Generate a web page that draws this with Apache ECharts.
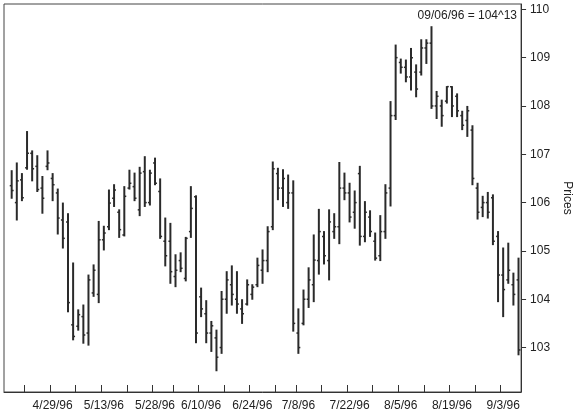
<!DOCTYPE html>
<html>
<head>
<meta charset="utf-8">
<script src="https://cdn.jsdelivr.net/npm/echarts@6/dist/echarts.min.js"></script>
<style>html,body{margin:0;padding:0;background:#fff;}#c{width:581px;height:418px;}</style>
</head>
<body>
<div id="c"></div>
<script>
// Trading dates (index 0 = 4/16/96 has no visible bar)
var dates = [
'4/16/96','4/17/96','4/18/96','4/19/96',
'4/22/96','4/23/96','4/24/96','4/25/96','4/26/96',
'4/29/96','4/30/96','5/1/96','5/2/96','5/3/96',
'5/6/96','5/7/96','5/8/96','5/9/96','5/10/96',
'5/13/96','5/14/96','5/15/96','5/16/96','5/17/96',
'5/20/96','5/21/96','5/22/96','5/23/96','5/24/96',
'5/28/96','5/29/96','5/30/96','5/31/96',
'6/3/96','6/4/96','6/5/96','6/6/96','6/7/96',
'6/10/96','6/11/96','6/12/96','6/13/96','6/14/96',
'6/17/96','6/18/96','6/19/96','6/20/96','6/21/96',
'6/24/96','6/25/96','6/26/96','6/27/96','6/28/96',
'7/1/96','7/2/96','7/3/96','7/5/96',
'7/8/96','7/9/96','7/10/96','7/11/96','7/12/96',
'7/15/96','7/16/96','7/17/96','7/18/96','7/19/96',
'7/22/96','7/23/96','7/24/96','7/25/96','7/26/96',
'7/29/96','7/30/96','7/31/96','8/1/96','8/2/96',
'8/5/96','8/6/96','8/7/96','8/8/96','8/9/96',
'8/12/96','8/13/96','8/14/96','8/15/96','8/16/96',
'8/19/96','8/20/96','8/21/96','8/22/96','8/23/96',
'8/26/96','8/27/96','8/28/96','8/29/96','8/30/96',
'9/3/96','9/4/96','9/5/96','9/6/96'
];
var weekStarts = ['4/22/96','4/29/96','5/6/96','5/13/96','5/20/96','5/28/96','6/3/96','6/10/96','6/17/96','6/24/96','7/1/96','7/8/96','7/15/96','7/22/96','7/29/96','8/5/96','8/12/96','8/19/96','8/26/96','9/3/96'];
var tickLabels = ['4/29/96','5/13/96','5/28/96','6/10/96','6/24/96','7/8/96','7/22/96','8/5/96','8/19/96','9/3/96'];
var priceTicks = [103,104,105,106,107,108,109,110];

var opens = [null,
106.35,106.00,106.47,106.72,107.02,106.75,106.30,106.75,106.50,106.20,
105.64,105.60,103.47,103.44,103.64,103.30,104.13,104.10,105.23,105.50,
106.09,105.80,105.33,106.30,106.33,105.85,106.64,106.00,106.82,106.23,
105.20,105.20,104.47,104.80,104.43,105.40,106.12,104.05,103.70,103.30,
103.20,103.00,104.00,104.30,104.00,103.80,103.90,104.10,104.30,104.60,
104.80,105.50,106.60,106.30,106.00,106.20,103.30,103.50,104.00,104.30,
104.80,105.30,104.80,105.40,105.50,106.30,106.20,105.80,106.60,105.30,
105.70,105.20,104.90,105.40,106.30,107.80,108.90,108.80,108.60,108.70,
108.70,109.20,109.30,108.00,108.00,108.10,108.40,108.20,107.80,107.70,
107.50,106.30,105.90,106.00,106.10,105.30,104.50,104.40,104.30,104.40];
var highs = [null,
106.66,106.82,106.60,107.47,107.07,106.97,106.54,107.07,106.60,106.28,
105.99,105.77,104.75,103.78,103.88,104.50,104.71,105.61,105.51,106.26,
106.37,105.85,106.33,106.67,106.61,106.73,106.95,106.67,106.92,106.49,
105.68,105.57,104.92,104.96,105.28,106.33,106.14,104.23,103.97,103.54,
103.36,104.16,104.57,104.69,104.57,103.99,104.40,104.30,104.85,105.02,
105.50,106.84,106.71,106.68,106.57,106.45,103.80,104.19,104.65,105.33,
105.86,105.40,105.85,105.77,106.83,106.61,106.40,106.24,106.75,106.02,
105.83,105.37,105.73,106.37,108.09,109.26,108.97,108.95,109.19,108.85,
109.37,109.37,109.64,108.30,108.12,108.40,108.40,108.25,107.89,107.99,
107.59,106.40,106.13,106.21,106.16,105.40,105.06,105.16,104.54,104.85];
var lows = [null,
106.09,105.64,106.04,106.69,106.45,106.23,105.78,106.68,106.04,105.35,
105.06,103.74,103.16,103.36,103.09,103.05,104.06,103.93,105.02,105.44,
105.92,105.28,105.31,106.28,106.04,105.73,105.92,105.95,106.37,105.26,
104.69,104.33,104.26,104.57,104.38,105.28,103.10,103.64,103.10,102.92,
102.52,102.88,103.71,103.88,103.71,103.50,103.88,104.00,104.26,104.33,
104.57,105.44,106.06,105.92,105.88,103.34,102.88,103.47,103.83,103.95,
104.52,104.73,104.40,105.26,105.15,106.06,105.60,105.47,105.12,105.19,
105.30,104.81,104.80,105.26,105.93,107.72,108.68,108.50,108.33,108.19,
108.64,108.88,107.95,107.74,107.58,108.06,107.78,107.78,107.51,107.37,
106.37,105.66,105.71,105.68,105.13,103.95,103.64,104.33,103.88,102.85];
var closes = [null,
106.25,106.45,106.10,107.02,106.70,106.27,106.09,106.82,106.37,105.68,
105.26,103.93,103.23,103.68,103.26,104.40,104.60,105.23,105.37,105.99,
106.26,105.44,106.13,106.40,106.09,106.61,106.00,106.61,106.40,105.30,
104.90,104.57,104.60,104.64,105.26,105.88,103.30,103.80,103.30,103.45,
102.80,104.00,104.40,104.10,103.90,103.70,104.30,104.25,104.70,104.80,
105.40,106.70,106.30,106.50,106.20,103.50,103.00,104.00,104.40,104.81,
105.40,104.90,105.60,105.50,106.30,106.20,105.70,106.00,105.30,105.80,
105.40,104.85,105.40,106.20,107.80,109.00,108.80,108.60,109.00,108.35,
109.20,109.30,108.00,108.20,107.80,108.40,108.00,107.90,107.60,107.90,
106.50,105.80,106.00,105.80,105.20,104.50,104.20,104.60,104.10,102.95];

var ohlc = [];
for (var i = 0; i < dates.length; i++) {
  if (highs[i] == null) continue;
  ohlc.push([i, opens[i], closes[i], lows[i], highs[i]]);
}

var chart = echarts.init(document.getElementById('c'), null, {renderer: 'canvas'});
var ink = '#2a2a2a';
var font = 'Liberation Sans, Arial, sans-serif';
chart.setOption({
  animation: false,
  backgroundColor: '#fff',
  title: {
    text: '09/06/96 = 104^13',
    right: 59, top: 5,
    textStyle: {fontSize: 12, fontWeight: 'normal', color: '#222', fontFamily: font}
  },
  grid: {left: 4, right: 52, top: 4, bottom: 26, show: true, borderColor: '#444', borderWidth: 1, containLabel: false},
  xAxis: {
    type: 'category',
    data: dates,
    boundaryGap: true,
    axisLine: {show: true, lineStyle: {color: '#333', width: 1}},
    axisTick: {
      show: true, inside: true, length: 7,
      interval: function (idx, val) { return weekStarts.indexOf(val) >= 0; },
      lineStyle: {color: '#333'}
    },
    axisLabel: {
      interval: function (idx, val) { return tickLabels.indexOf(val) >= 0; },
      fontSize: 12, color: '#222', fontFamily: font, margin: 8
    },
    splitLine: {show: false}
  },
  yAxis: {
    type: 'value',
    position: 'right',
    min: 102.08, max: 110.11,
    name: 'Prices',
    nameLocation: 'middle',
    nameRotate: -90,
    nameGap: 37,
    nameTextStyle: {fontSize: 12, color: '#222', fontFamily: font},
    axisLine: {show: true, lineStyle: {color: '#333'}},
    axisTick: {show: true, inside: false, length: 5, customValues: priceTicks, lineStyle: {color: '#333'}},
    axisLabel: {customValues: priceTicks, fontSize: 12, color: '#222', fontFamily: font, margin: 9},
    splitLine: {show: false}
  },
  series: [{
    type: 'custom',
    data: ohlc,
    encode: {x: 0, y: [1, 2, 3, 4]},
    renderItem: function (params, api) {
      var x = api.value(0);
      var pO = api.coord([x, api.value(1)]);
      var pC = api.coord([x, api.value(2)]);
      var pL = api.coord([x, api.value(3)]);
      var pH = api.coord([x, api.value(4)]);
      var w = api.size([1, 0])[0] * 0.38;
      var st = {stroke: ink, lineWidth: 2, fill: null};
      return {
        type: 'group',
        children: [
          {type: 'line', shape: {x1: pH[0], y1: pH[1] - 0.5, x2: pL[0], y2: pL[1] + 0.5}, style: st},
          {type: 'line', shape: {x1: pO[0] - w, y1: pO[1], x2: pO[0], y2: pO[1]}, style: {stroke: ink, lineWidth: 1.5}},
          {type: 'line', shape: {x1: pC[0], y1: pC[1], x2: pC[0] + w, y2: pC[1]}, style: {stroke: ink, lineWidth: 1.5}}
        ]
      };
    }
  }]
});
</script>
</body>
</html>
